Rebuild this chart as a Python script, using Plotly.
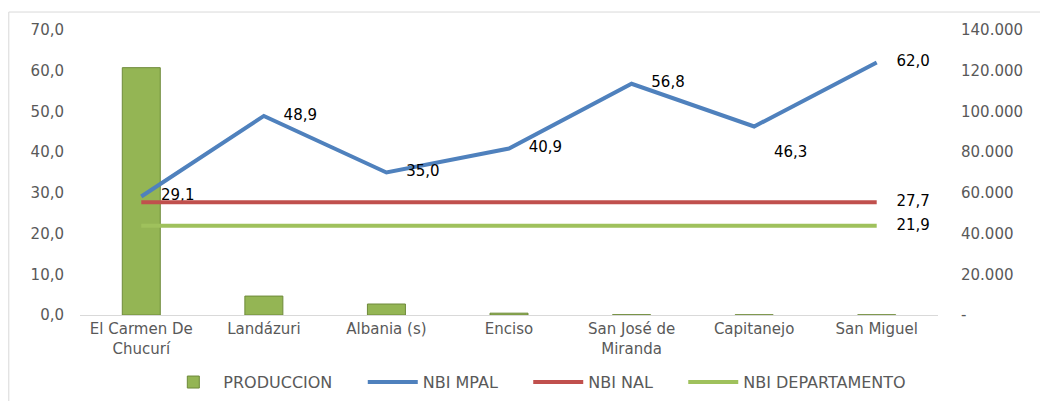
import plotly.graph_objects as go

# municipios (categorías del eje x)
municipios = ['El Carmen De<br>Chucurí', 'Landázuri', 'Albania (s)', 'Enciso',
              'San José de<br>Miranda', 'Capitanejo', 'San Miguel']

# valores
produccion = [121500, 9300, 5400, 900, 150, 100, 100]
nbi_mpal = [29.1, 48.9, 35.0, 40.9, 56.8, 46.3, 62.0]
nbi_nal = [27.7] * 7
nbi_depto = [21.9] * 7

# ticks de los ejes
ticks_izq = [0, 10, 20, 30, 40, 50, 60, 70]
ticks_der = [0, 20000, 40000, 60000, 80000, 100000, 120000, 140000]
ticks_der_txt = ['-', '20.000', '40.000', '60.000', '80.000', '100.000', '120.000', '140.000']

FUENTE = 'DejaVu Sans'
GRIS = '#595959'
INVISIBLE = 'rgba(0,0,0,0)'
PAD = '\u00a0' * 5  # espacio extra entre elementos de la leyenda


def coma(v):
    return f"{v:.1f}".replace('.', ',')


fig = go.Figure()

# barras en el eje principal (derecha) para que las líneas queden encima
fig.add_trace(go.Bar(
    name='PRODUCCION' + PAD, x=municipios, y=produccion, yaxis='y',
    width=0.31,
    marker=dict(color='#94B554', line=dict(color='#6E8A3A', width=1)),
))

pos_mpal = ['middle right'] * 5 + ['bottom right', 'middle right']
fig.add_trace(go.Scatter(
    name='NBI MPAL' + PAD, x=municipios, y=nbi_mpal, mode='lines+markers+text', yaxis='y2',
    line=dict(color='#4F81BD', width=4),
    marker=dict(size=30, color=INVISIBLE),
    text=[coma(v) for v in nbi_mpal], textposition=pos_mpal,
    textfont=dict(family=FUENTE, color='#000000', size=15),
))

fig.add_trace(go.Scatter(
    name='NBI NAL' + PAD, x=municipios, y=nbi_nal, mode='lines+markers+text', yaxis='y2',
    line=dict(color='#C0504D', width=4),
    marker=dict(size=30, color=INVISIBLE),
    text=[''] * 6 + [coma(nbi_nal[-1])], textposition='middle right',
    textfont=dict(family=FUENTE, color='#000000', size=15),
))

fig.add_trace(go.Scatter(
    name='NBI DEPARTAMENTO', x=municipios, y=nbi_depto, mode='lines+markers+text', yaxis='y2',
    line=dict(color='#9FC15C', width=4),
    marker=dict(size=30, color=INVISIBLE),
    text=[''] * 6 + [coma(nbi_depto[-1])], textposition='middle right',
    textfont=dict(family=FUENTE, color='#000000', size=15),
))

fig.update_layout(
    width=1040, height=393,
    margin=dict(l=72, r=110, t=22, b=86),
    paper_bgcolor='white', plot_bgcolor='white',
    separators=',.',
    font=dict(family=FUENTE, size=15, color=GRIS),
    showlegend=True,
    xaxis=dict(range=[-0.5, 6.5], showgrid=False, showline=True,
               linecolor='#D9D9D9', linewidth=1,
               ticks='', automargin=False, tickfont=dict(size=15, color=GRIS)),
    yaxis=dict(range=[0, 140000], side='right',
               tickvals=ticks_der, ticktext=ticks_der_txt,
               showgrid=False, zeroline=False, showline=False, automargin=False,
               ticklabelstandoff=22, tickfont=dict(size=15, color=GRIS)),
    yaxis2=dict(range=[0, 70], overlaying='y', side='left',
                tickvals=ticks_izq, tickformat='.1f',
                showgrid=False, zeroline=False, showline=False, automargin=False,
                ticklabelstandoff=15, tickfont=dict(size=15, color=GRIS)),
    legend=dict(orientation='h', xref='paper', x=0.533, xanchor='center',
                yref='container', y=0.048, yanchor='middle',
                font=dict(size=16, color=GRIS), traceorder='normal',
                itemwidth=50),
    shapes=[dict(type='rect', xref='paper', yref='paper',
                 x0=-0.083, x1=1.2, y0=-0.4, y1=1.063,
                 line=dict(color='#D9D9D9', width=1))],
)

fig.write_html("out.html")
